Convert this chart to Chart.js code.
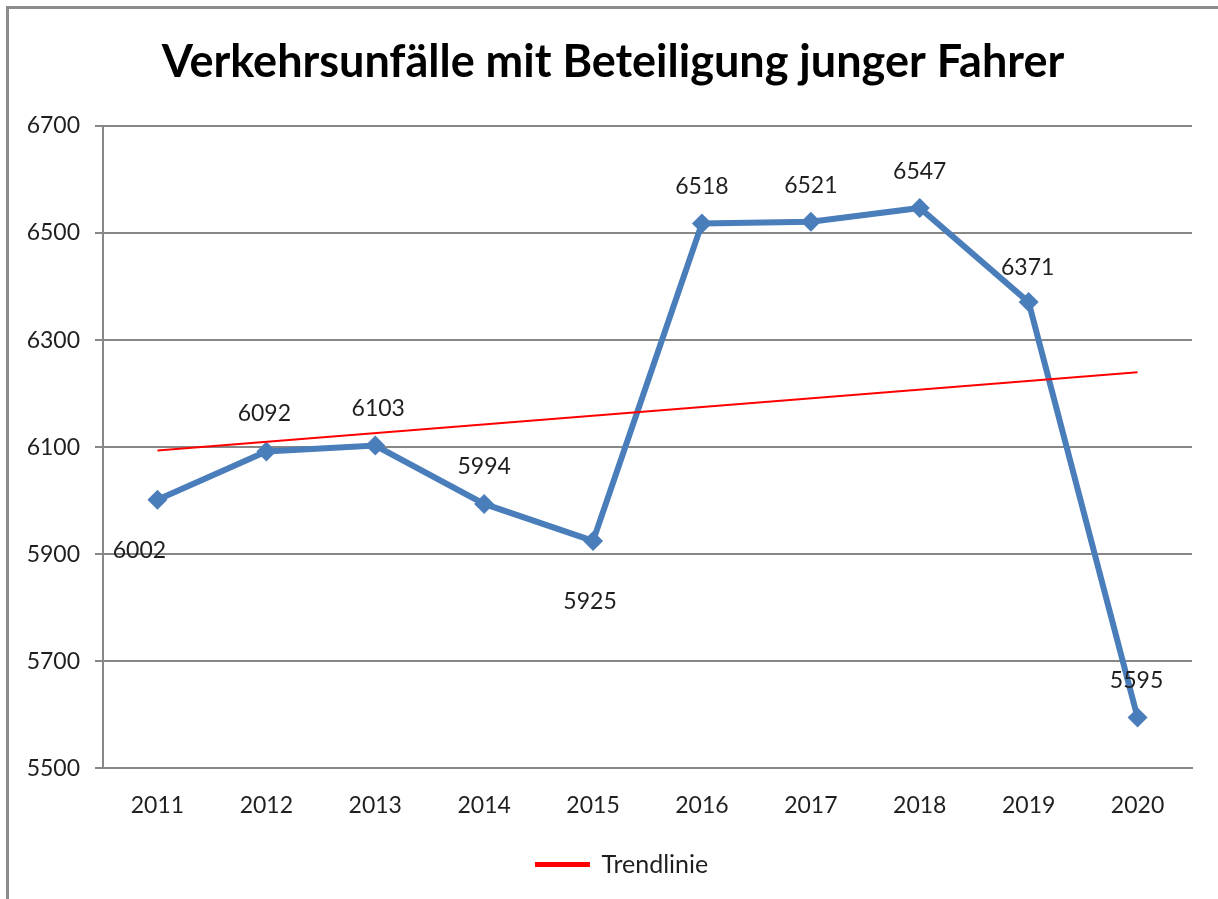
<!DOCTYPE html>
<html>
<head>
<meta charset="utf-8">
<script src="https://cdn.jsdelivr.net/npm/chart.js@4/dist/chart.umd.min.js"></script>
<style>
  html, body { margin: 0; padding: 0; background: #ffffff; }
  #wrap { width: 1218px; height: 899px; position: relative; }
</style>
</head>
<body>
<div id="wrap"><canvas id="c" width="1218" height="899"></canvas></div>
<script>
// ---- data ----
const titleText = 'Verkehrsunfälle mit Beteiligung junger Fahrer';
const years = ['2011','2012','2013','2014','2015','2016','2017','2018','2019','2020'];
const accidents = [6002, 6092, 6103, 5994, 5925, 6518, 6521, 6547, 6371, 5595];
const trendStart = 6094;   // trend line value at 2011
const trendEnd = 6240;     // trend line value at 2020
const trendLabel = 'Trendlinie';
const yMin = 5500, yMax = 6700, yStep = 200;

// ---- styles ----
const FONT = 'Lato, "Open Sans", sans-serif';
const textColor = '#1f1f1f';
const gridColor = '#878787';
const blue = '#4a7ebb';
// data label offsets relative to the point (dx, dy)
const labelOffsets = [[-18, 51], [-2, -38], [3, -37], [0, -37], [-3, 61], [0, -37], [0, -36], [0, -36], [-1, -35], [-1, -37]];

const trendData = years.map((y, i) => i === 0 ? trendStart : (i === years.length - 1 ? trendEnd : null));

const framePlugin = {
  id: 'frame',
  afterLayout(chart) {
    // shift title and legend block a little to the right (centered like the original)
    const shift = 26;
    if (chart.titleBlock) { chart.titleBlock.left += shift; }
    if (chart.legend) { chart.legend.left += shift; chart.legend.right += shift * 0.7; }
  },
  beforeDraw(chart) {
    const ctx = chart.ctx;
    ctx.save();
    ctx.fillStyle = '#ffffff';
    ctx.fillRect(0, 0, chart.width, chart.height);
    ctx.strokeStyle = '#8c8c8c';
    ctx.lineWidth = 3;
    ctx.beginPath();
    ctx.moveTo(7.5, chart.height + 5);
    ctx.lineTo(7.5, 7.5);
    ctx.lineTo(chart.width + 5, 7.5);
    ctx.stroke();
    ctx.restore();
  }
};

const labelPlugin = {
  id: 'dataLabels',
  afterDatasetsDraw(chart) {
    const ctx = chart.ctx;
    const meta = chart.getDatasetMeta(0);
    ctx.save();
    ctx.font = '23px ' + FONT;
    ctx.fillStyle = textColor;
    ctx.textAlign = 'center';
    ctx.textBaseline = 'middle';
    meta.data.forEach((pt, i) => {
      const off = labelOffsets[i] || [0, -37];
      ctx.fillText(String(accidents[i]), pt.x + off[0], pt.y + off[1]);
    });
    ctx.restore();
  }
};

new Chart(document.getElementById('c'), {
  type: 'line',
  data: {
    labels: years,
    datasets: [
      {
        label: 'Verkehrsunfälle',
        data: accidents,
        borderColor: blue,
        backgroundColor: blue,
        borderWidth: 6,
        pointStyle: 'rectRot',
        pointRadius: 10,
        pointHoverRadius: 10,
        pointBorderWidth: 0,
        pointBackgroundColor: blue,
        tension: 0,
        order: 2
      },
      {
        label: trendLabel,
        data: trendData,
        spanGaps: true,
        borderColor: '#ff0000',
        backgroundColor: '#ff0000',
        borderWidth: 2,
        pointRadius: 0,
        pointHoverRadius: 0,
        tension: 0,
        order: 1
      }
    ]
  },
  options: {
    responsive: false,
    animation: false,
    events: [],
    layout: { padding: { left: 8, right: 26, top: 0, bottom: 12 } },
    plugins: {
      title: {
        display: true,
        text: titleText,
        color: '#000000',
        font: { family: FONT, size: 45, weight: 'bold', lineHeight: 1.2 },
        padding: { top: 35, bottom: 37 }
      },
      legend: {
        display: true,
        position: 'bottom',
        labels: {
          filter: (item) => item.text === trendLabel,
          boxWidth: 53,
          boxHeight: 3,
          color: textColor,
          font: { family: FONT, size: 25 },
          padding: 10
        }
      },
      tooltip: { enabled: false }
    },
    scales: {
      x: {
        offset: true,
        grid: { display: false, drawTicks: false },
        border: { display: true, color: gridColor, width: 2 },
        ticks: { color: textColor, font: { family: FONT, size: 23 }, padding: 23, maxRotation: 0 }
      },
      y: {
        min: yMin,
        max: yMax,
        afterFit(scale) { scale.width = 95; },
        grid: { color: gridColor, lineWidth: 2, tickLength: 8, drawTicks: true },
        border: { display: true, color: gridColor, width: 2 },
        ticks: {
          stepSize: yStep,
          color: textColor,
          font: { family: FONT, size: 23 },
          padding: 15,
          callback: (v) => String(v)
        }
      }
    }
  },
  plugins: [framePlugin, labelPlugin]
});
</script>
</body>
</html>
